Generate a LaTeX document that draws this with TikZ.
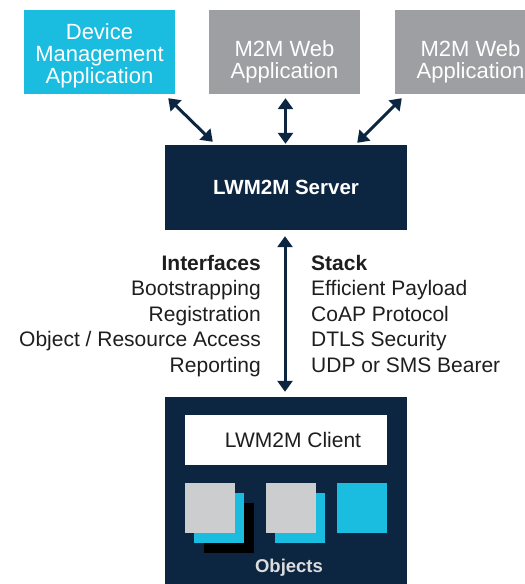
\documentclass[tikz,border=0pt]{standalone}
\usepackage{fontspec}
\setmainfont{Liberation Sans}
\usetikzlibrary{arrows.meta}
\definecolor{cyanbox}{HTML}{1ABDE0}
\definecolor{greybox}{HTML}{9D9FA2}
\definecolor{navy}{HTML}{0C2540}
\definecolor{lightsq}{HTML}{CBCDCF}
\definecolor{textdark}{HTML}{1E1E1E}
\begin{document}
\begin{tikzpicture}[x=1pt,y=-1pt,
  appbox/.style={rectangle,minimum width=151pt,minimum height=84pt,inner sep=0pt},
  apptext/.style={inner sep=0pt,text=white,align=center,font=\fontsize{22}{22}\selectfont},
  darkbox/.style={rectangle,fill=navy,inner sep=0pt},
  biarrow/.style={draw=navy,line width=3pt,{Triangle[width=15pt,length=11pt]}-{Triangle[width=15pt,length=11pt]}},
  listtext/.style={inner sep=0pt,text=textdark,font=\fontsize{21}{25.5}\selectfont},
  square/.style={rectangle,minimum size=50pt,inner sep=0pt}
]
\useasboundingbox (0,0) rectangle (525,584);
\clip (0,0) rectangle (525,584);
\fill[white] (0,0) rectangle (525,584);

% application boxes
\node[appbox,fill=cyanbox] (dev) at (99.5,52) {};
\node[appbox,fill=greybox] (weba) at (284.5,52) {};
\node[appbox,fill=greybox] (webb) at (470.5,52) {};
\node[apptext] (devt) at ([yshift=-4pt]dev.center) {Device\\Management\\Application};
\node[apptext] (webat) at ([yshift=-10pt]weba.center) {M2M Web\\Application};
\node[apptext] (webbt) at ([yshift=-10pt]webb.center) {M2M Web\\Application};

% server
\node[darkbox,minimum width=242pt,minimum height=85pt,text=white,
  font=\fontsize{20.5}{24}\selectfont\bfseries] (srv) at (286,187.5) {LWM2M Server};

% client device
\node[darkbox,minimum width=242pt,minimum height=200pt] (cli) at (286,497) {};
\node[rectangle,fill=white,minimum width=202pt,minimum height=50pt,inner sep=0pt,
  text=textdark,font=\fontsize{21}{24}\selectfont] (cl) at (286,440) {\hspace{14pt}LWM2M Client};

% object stacks
\node[square,fill=black] (o1c) at (229,528) {};
\node[square,fill=cyanbox] (o1b) at (219,518) {};
\node[square,fill=lightsq] (o1a) at (210,508) {};
\node[square,fill=cyanbox] (o2b) at (300,518) {};
\node[square,fill=lightsq] (o2a) at (291,508) {};
\node[square,fill=cyanbox] (o3) at (362,508) {};
\node[text=lightsq!70!white,font=\fontsize{18.5}{20}\selectfont\bfseries,inner sep=0pt] (objs) at (289,568) {Objects};

% connectors
\draw[biarrow] ([xshift=-7pt,yshift=-4pt]dev.south east) -- ([xshift=48pt,yshift=3pt]srv.north west);
\draw[biarrow] ([xshift=1pt,yshift=-4pt]weba.south) -- ([xshift=-0.5pt,yshift=1pt]srv.north);
\draw[biarrow] ([xshift=7pt,yshift=-4pt]webb.south west) -- ([xshift=-50pt,yshift=2pt]srv.north east);
\draw[biarrow] ([xshift=-1pt,yshift=-6pt]srv.south) -- ([xshift=-1pt,yshift=5pt]cli.north);

% interface and stack lists
\node[listtext,anchor=north east,align=right] (ifc) at (261,255)
  {\textbf{Interfaces}\\Bootstrapping\\Registration\\Object / Resource Access\\Reporting};
\node[listtext,anchor=north west,align=left] (stk) at (311,255)
  {\textbf{Stack}\\Efficient Payload\\CoAP Protocol\\DTLS Security\\UDP or SMS Bearer};
\end{tikzpicture}
\end{document}
